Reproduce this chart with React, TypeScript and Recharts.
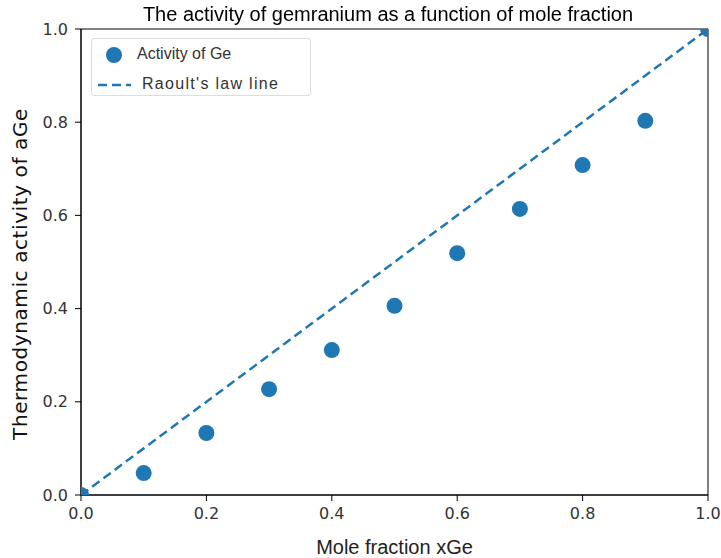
import React from "react";
import { ScatterChart, Scatter, XAxis, YAxis, ReferenceArea } from "recharts";

const moleFraction = [0, 0.1, 0.2, 0.3, 0.4, 0.5, 0.6, 0.7, 0.8, 0.9, 1.0];
const activity = [0, 0.047, 0.133, 0.227, 0.311, 0.406, 0.519, 0.614, 0.708, 0.803, 1.0];
const raoultX = [0, 1];
const raoultY = [0, 1];
const ticks = [0, 0.2, 0.4, 0.6, 0.8, 1.0];

const activityData = moleFraction.map((x, i) => ({ x, y: activity[i] }));
const raoultData = raoultX.map((x, i) => ({ x, y: raoultY[i] }));

const BLUE = "#1f77b4";
const FONT = "'Liberation Sans', Arial, sans-serif";
const DJV = "'DejaVu Sans', sans-serif";

const Dot = (props: any) => <circle cx={props.cx} cy={props.cy} r={8} fill={BLUE} />;
const NoDot = () => null;

const LegendBox = () => (
  <div
    style={{
      position: "absolute",
      left: 91,
      top: 38,
      width: 220,
      height: 58,
      border: "1px solid #ddd",
      borderRadius: 3,
      background: "#fff",
      fontFamily: FONT,
      fontSize: 16,
      color: "#333",
      boxSizing: "border-box",
    }}
  >
    <svg width={40} height={56} style={{ position: "absolute", left: 0, top: 0 }}>
      <circle cx={22} cy={16} r={8} fill={BLUE} />
      <line x1={6} x2={39} y1={46} y2={46} stroke={BLUE} strokeWidth={2.5} strokeDasharray="9 5" />
    </svg>
    <div style={{ position: "absolute", left: 45, top: 6, whiteSpace: "nowrap" }}>Activity of Ge</div>
    <div style={{ position: "absolute", left: 50, top: 36, whiteSpace: "nowrap", letterSpacing: 1.3 }}>
      Raoult's law line
    </div>
  </div>
);

export default function App() {
  return (
    <div style={{ position: "fixed", left: 0, top: 0, width: 721, height: 558, background: "#fff" }}>
      <ScatterChart width={721} height={558} margin={{ top: 29, right: 13, left: 8, bottom: 0 }}>
        <XAxis
          type="number"
          dataKey="x"
          domain={[0, 1]}
          ticks={ticks}
          allowDataOverflow
          tickFormatter={(v: number) => v.toFixed(1)}
          height={63}
          tickSize={6}
          stroke="#000"
          tick={{ fill: "#333", fontFamily: DJV, fontSize: 16, dy: 5 }}
          label={(p: any) => (
            <text
              x={p.viewBox.x + p.viewBox.width / 2}
              y={p.viewBox.y + 59}
              textAnchor="middle"
              fontFamily={FONT}
              fontSize={20}
              fill="#222"
            >
              Mole fraction xGe
            </text>
          )}
        />
        <YAxis
          type="number"
          dataKey="y"
          domain={[0, 1]}
          ticks={ticks}
          allowDataOverflow
          tickFormatter={(v: number) => v.toFixed(1)}
          width={73}
          tickSize={6}
          stroke="#000"
          tick={{ fill: "#333", fontFamily: DJV, fontSize: 16, dx: -5 }}
          label={() => {
            const cx = 27;
            const cy = 274;
            return (
              <text
                x={cx}
                y={cy}
                transform={`rotate(-90 ${cx} ${cy})`}
                textAnchor="middle"
                fontFamily={DJV}
                fontSize={20}
                letterSpacing={0.6}
                fill="#111"
              >
                Thermodynamic activity of aGe
              </text>
            );
          }}
        />
        <ReferenceArea x1={0} x2={1} y1={0} y2={1} fill="none" stroke="#000" strokeWidth={1} fillOpacity={0} />
        <Scatter
          name="Raoult's law line"
          data={raoultData}
          line={{ stroke: BLUE, strokeWidth: 2.5, strokeDasharray: "9 5" }}
          shape={NoDot}
          fill={BLUE}
          isAnimationActive={false}
        />
        <Scatter name="Activity of Ge" data={activityData} shape={Dot} fill={BLUE} isAnimationActive={false} />
      </ScatterChart>
      <div
        style={{
          position: "absolute",
          left: 0,
          width: 776,
          top: 3,
          textAlign: "center",
          fontFamily: FONT,
          fontSize: 20,
          color: "#000",
          whiteSpace: "nowrap",
        }}
      >
        The activity of gemranium as a function of mole fraction
      </div>
      <LegendBox />
    </div>
  );
}
